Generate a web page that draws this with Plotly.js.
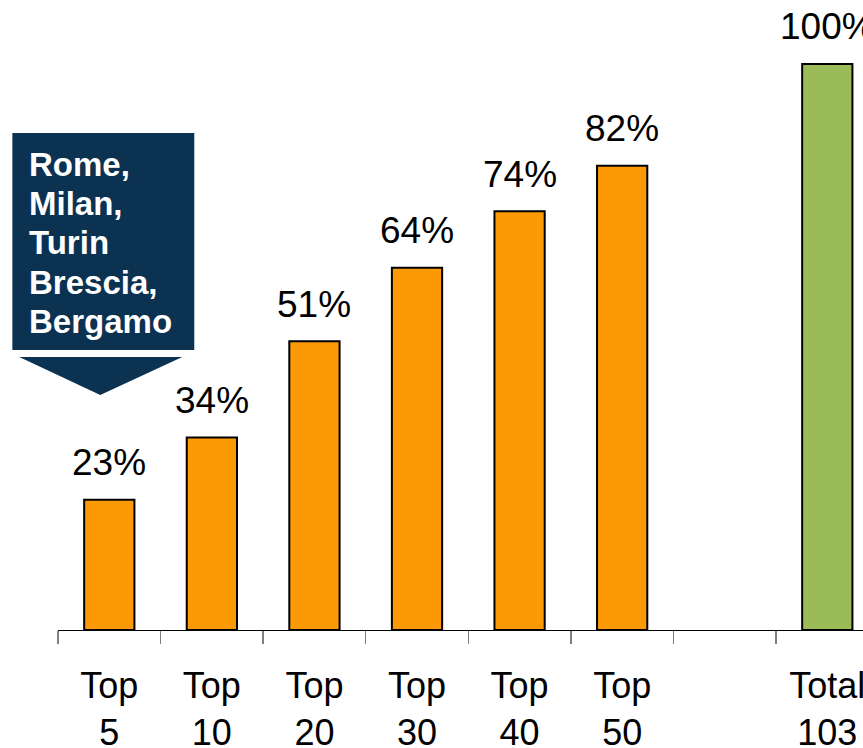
<!DOCTYPE html>
<html>
<head>
<meta charset="utf-8">
<script src="https://cdn.plot.ly/plotly-3.0.1.min.js"></script>
<style>html,body{margin:0;padding:0;background:#fff;}#chart{width:863px;height:748px;}</style>
</head>
<body>
<div id="chart"></div>
<script>
const categories = ["Top<br>5", "Top<br>10", "Top<br>20", "Top<br>30", "Top<br>40", "Top<br>50", " ", "Total<br>103"];
const values = [23, 34, 51, 64, 74, 82, null, 100];
const valueLabels = ["23%", "34%", "51%", "64%", "74%", "82%", "", "100%"];
const barColors = ["#FB9906", "#FB9906", "#FB9906", "#FB9906", "#FB9906", "#FB9906", "#FB9906", "#9BBB59"];
const calloutLines = ["Rome,", "Milan,", "Turin", "Brescia,", "Bergamo"];

const FONT = "Liberation Sans, Arial, sans-serif";

const trace = {
  type: "bar",
  x: categories,
  y: values,
  width: 0.49,
  marker: { color: barColors, line: { color: "#000000", width: 2 } },
  hoverinfo: "skip"
};

const annotations = [];
categories.forEach((c, i) => {
  if (values[i] == null) return;
  annotations.push({
    x: c, y: values[i], xref: "x", yref: "y",
    text: valueLabels[i], showarrow: false,
    xanchor: "center", yanchor: "middle", yshift: 37,
    font: { family: FONT, size: 37, color: "#000000" }
  });
});
// callout lines, 39px apart, first line centred ~165px from top of the 630px plot
calloutLines.forEach((line, i) => {
  annotations.push({
    xref: "paper", yref: "paper", x: -0.038, y: (630 - 165 - 39 * i) / 630,
    xanchor: "left", yanchor: "middle", align: "left",
    text: "<b>" + line + "</b>", showarrow: false,
    font: { family: FONT, size: 33, color: "#FFFFFF" }
  });
});

const layout = {
  width: 863, height: 748,
  margin: { l: 58, r: 0, t: 0, b: 118, pad: 0 },
  paper_bgcolor: "#FFFFFF", plot_bgcolor: "#FFFFFF",
  showlegend: false,
  bargap: 0.51,
  xaxis: {
    type: "category",
    range: [-0.5, 7.348],
    tickson: "boundaries",
    ticks: "outside", ticklen: 13, tickwidth: 1.5, tickcolor: "#808080",
    ticklabelstandoff: 24,
    showline: true, linecolor: "#000000", linewidth: 1,
    showgrid: false, zeroline: false,
    tickfont: { family: FONT, size: 36, color: "#000000" },
    fixedrange: true
  },
  yaxis: {
    range: [0, 111.3],
    visible: false, showgrid: false, zeroline: false,
    fixedrange: true
  },
  shapes: [
    { type: "rect", xref: "paper", yref: "paper",
      x0: -0.0567, x1: 0.1693, y0: 0.4444, y1: 0.7889,
      fillcolor: "#0B3251", line: { width: 0 }, layer: "above" },
    { type: "path", xref: "paper", yref: "paper",
      path: "M -0.0481 0.4333 L 0.1544 0.4333 L 0.0525 0.3730 Z",
      fillcolor: "#0B3251", line: { width: 0 }, layer: "above" }
  ],
  annotations: annotations
};

Plotly.newPlot("chart", [trace], layout, { displayModeBar: false, staticPlot: true });
</script>
</body>
</html>
